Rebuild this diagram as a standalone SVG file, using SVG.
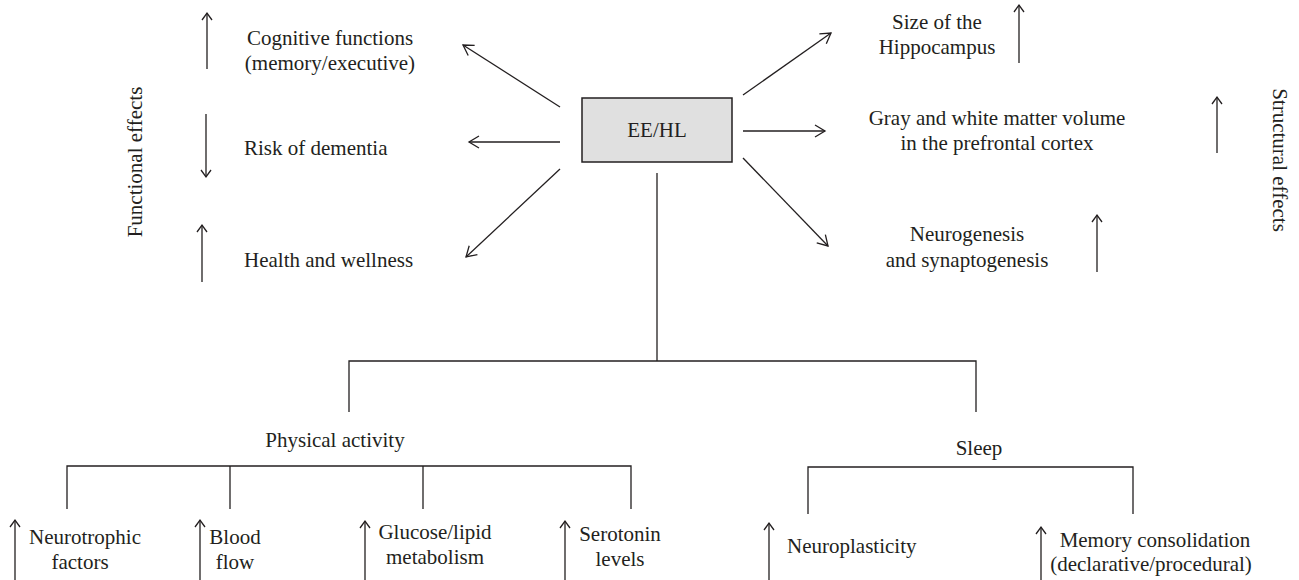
<svg xmlns="http://www.w3.org/2000/svg" width="1299" height="580" viewBox="0 0 1299 580">
<style>
text{font-family:"Liberation Serif","Times New Roman",serif;font-size:21px;fill:#231f20}
.m{text-anchor:middle}
.ln{stroke:#231f20;stroke-width:1.3;fill:none}
.ar{stroke:#231f20;stroke-width:1.3;fill:none;marker-end:url(#ah)}
.sa{stroke:#231f20;stroke-width:1.3;fill:none;marker-end:url(#sh)}
</style>
<defs>
<marker id="ah" markerUnits="userSpaceOnUse" viewBox="-12 -8 14 16" refX="0" refY="0" markerWidth="14" markerHeight="16" orient="auto">
<path d="M-10,-6 L0,0 L-10,6" fill="none" stroke="#231f20" stroke-width="1.3"/>
</marker>
<marker id="sh" markerUnits="userSpaceOnUse" viewBox="-10 -7 12 14" refX="0" refY="0" markerWidth="12" markerHeight="14" orient="auto">
<path d="M-7,-5 L0,0 L-7,5" fill="none" stroke="#231f20" stroke-width="1.3"/>
</marker>
</defs>
<g id="center">
<rect x="582" y="98" width="150" height="64" fill="#e0e0e0" stroke="#231f20" stroke-width="1.5"/>
<text class="m" x="657" y="137">EE/HL</text>
</g>
<g id="functional-label"><text class="m" transform="translate(142,162) rotate(-90)">Functional effects</text></g>
<g id="structural-label"><text class="m" transform="translate(1273,160) rotate(90)">Structural effects</text></g>
<g id="cognitive">
<path class="sa" d="M207,69 L207,13"/>
<text class="m" x="330" y="45">Cognitive functions</text>
<text class="m" x="330" y="70">(memory/executive)</text>
</g>
<g id="dementia">
<path class="sa" d="M206,114 L206,177"/>
<text x="244" y="155">Risk of dementia</text>
</g>
<g id="health">
<path class="sa" d="M202,282 L202,225"/>
<text x="244" y="267">Health and wellness</text>
</g>
<g id="hippocampus">
<path class="sa" d="M1019,63 L1019,5"/>
<text class="m" x="937" y="29">Size of the</text>
<text class="m" x="937" y="54">Hippocampus</text>
</g>
<g id="graywhite">
<path class="sa" d="M1217,153 L1217,97"/>
<text class="m" x="997" y="125">Gray and white matter volume</text>
<text class="m" x="997" y="150">in the prefrontal cortex</text>
</g>
<g id="neurogenesis">
<path class="sa" d="M1097,272 L1097,215"/>
<text class="m" x="967" y="241">Neurogenesis</text>
<text class="m" x="967" y="267">and synaptogenesis</text>
</g>
<g id="physical">
<text class="m" x="335" y="447">Physical activity</text>
</g>
<g id="sleep">
<text class="m" x="979" y="455">Sleep</text>
</g>
<g id="neurotrophic">
<path class="sa" d="M15,580 L15,520"/>
<text class="m" x="85" y="544">Neurotrophic</text>
<text class="m" x="80" y="569">factors</text>
</g>
<g id="blood">
<path class="sa" d="M200,580 L200,520"/>
<text class="m" x="235" y="544">Blood</text>
<text class="m" x="235" y="569">flow</text>
</g>
<g id="glucose">
<path class="sa" d="M365,580 L365,521"/>
<text class="m" x="435" y="539">Glucose/lipid</text>
<text class="m" x="435" y="564">metabolism</text>
</g>
<g id="serotonin">
<path class="sa" d="M565,580 L565,521"/>
<text class="m" x="620" y="541">Serotonin</text>
<text class="m" x="620" y="566">levels</text>
</g>
<g id="neuroplasticity">
<path class="sa" d="M769,580 L769,523"/>
<text x="787" y="553">Neuroplasticity</text>
</g>
<g id="memory">
<path class="sa" d="M1041,580 L1041,527"/>
<text class="m" x="1155" y="547">Memory consolidation</text>
<text class="m" x="1151" y="571">(declarative/procedural)</text>
</g>
<g id="connectors">
<path class="ar" d="M560,107 L463,45"/>
<path class="ar" d="M560,142 L469,142"/>
<path class="ar" d="M560,169 L466,257"/>
<path class="ar" d="M743,95 L831,33"/>
<path class="ar" d="M743,131 L825,131"/>
<path class="ar" d="M743,158 L828,246"/>
<path class="ln" d="M657,173 L657,361"/>
<path class="ln" d="M349,412 L349,361 L976,361 L976,412"/>
<path class="ln" d="M67,509 L67,466 L631,466 L631,509"/>
<path class="ln" d="M230,466 L230,509"/>
<path class="ln" d="M423,466 L423,509"/>
<path class="ln" d="M808,514 L808,467 L1133,467 L1133,514"/>
</g>
</svg>
